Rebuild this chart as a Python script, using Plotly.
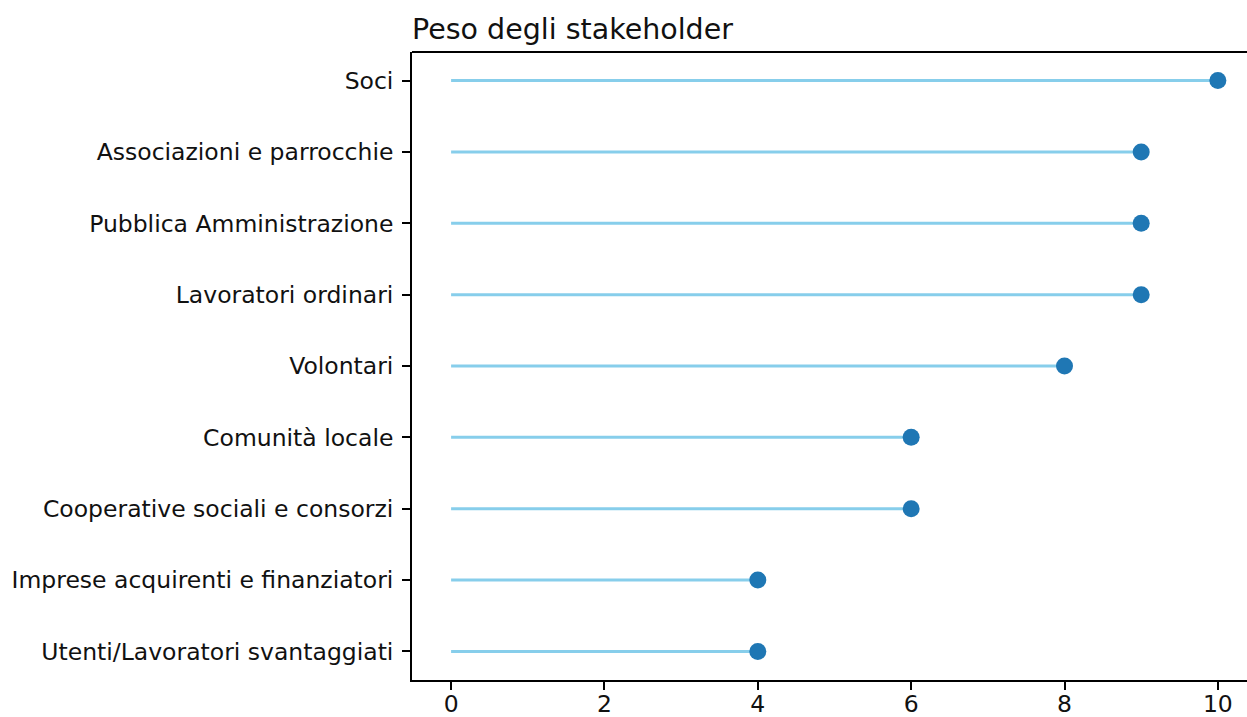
import plotly.graph_objects as go

categories = ["Utenti/Lavoratori svantaggiati", "Imprese acquirenti e finanziatori",
              "Cooperative sociali e consorzi", "Comunità locale", "Volontari",
              "Lavoratori ordinari", "Pubblica Amministrazione",
              "Associazioni e parrocchie", "Soci"]
values = [4, 4, 6, 6, 8, 9, 9, 9, 10]
xticks = [0, 2, 4, 6, 8, 10]

stem_x, stem_y = [], []
for c, v in zip(categories, values):
    stem_x += [0, v, None]
    stem_y += [c, c, None]

fig = go.Figure()
fig.add_trace(go.Scatter(x=stem_x, y=stem_y, mode="lines",
                         line=dict(color="#87CEEB", width=3),
                         hoverinfo="skip", showlegend=False))
fig.add_trace(go.Scatter(x=values, y=categories, mode="markers",
                         marker=dict(color="#1f77b4", size=17),
                         showlegend=False))

fig.update_layout(
    width=1247, height=717,
    margin=dict(l=412, r=0, t=52, b=37, autoexpand=False),
    paper_bgcolor="white", plot_bgcolor="white",
    font=dict(family="DejaVu Sans", size=23.5, color="#111"),
    title=dict(text="Peso degli stakeholder", x=412/1247, xanchor="left",
               y=1-39/717, yanchor="bottom", font=dict(size=28.5, color="#111")),
    xaxis=dict(range=[-0.51, 10.38], tickvals=xticks, showgrid=False, zeroline=False,
               showline=True, linecolor="black", linewidth=1.8, mirror=False,
               ticks="outside", ticklen=8, tickcolor="black", tickwidth=1.6,
               ticklabelstandoff=-6, automargin=False),
    yaxis=dict(type="category", categoryorder="array", categoryarray=categories,
               range=[-0.4, 8.4], showgrid=False, zeroline=False,
               showline=True, linecolor="black", linewidth=1.8,
               ticks="outside", ticklen=8, tickcolor="black", tickwidth=1.6,
               ticklabelstandoff=4, automargin=False),
    shapes=[dict(type="line", xref="paper", yref="paper", x0=0, x1=1, y0=1, y1=1,
                 line=dict(color="black", width=1.8))],
)

fig.write_html("out.html", config={"displayModeBar": False},
               post_script="document.body.style.margin='0';document.body.style.overflow='hidden';")
